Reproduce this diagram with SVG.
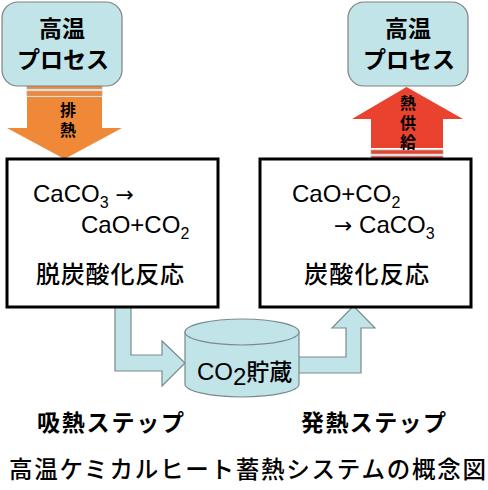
<svg xmlns="http://www.w3.org/2000/svg" width="488" height="490" viewBox="0 0 488 490">
<style>
.proc{fill:#c1e4e8;stroke:#808080;stroke-width:1.2}
.box{fill:#fff;stroke:#000;stroke-width:3}
.flow{fill:#c1e4e8;stroke:#7a8a8c;stroke-width:1.2}
.jp{font-family:"Noto Sans CJK JP","Noto Sans CJK SC",sans-serif;fill:#000}
.lat{font-family:"Liberation Sans",Arial,sans-serif;fill:#000;font-size:24px}
.big{font-size:23px;font-weight:bold}
.rx{font-size:24px;font-weight:500}
.step{font-size:23px;font-weight:bold}
.vlab{font-size:16px;font-weight:bold;writing-mode:vertical-rl;letter-spacing:3.5px}
</style>
<rect width="488" height="490" fill="#fff"/>
<g id="connectors">
  <g id="exhaust-arrow">
    <rect x="27" y="85" width="75" height="4" fill="#ef8837" stroke="#b0b0b0" stroke-width="0.8"/>
    <rect x="27" y="91" width="75" height="5" fill="#ef8837" stroke="#b0b0b0" stroke-width="0.8"/>
    <path d="M27,97 L102,97 L102,128 L122,128 L64.5,159 L7,128 L27,128 Z" fill="#ef8837"/>
    <text class="jp vlab" x="68" y="102">排熱</text>
  </g>
  <g id="supply-arrow">
    <rect x="371" y="150" width="72" height="4" fill="#e9432f" stroke="#b0b0b0" stroke-width="0.8"/>
    <rect x="371" y="156" width="72" height="3" fill="#e9432f" stroke="#b0b0b0" stroke-width="0.8"/>
    <path d="M371,148 L371,119 L352,119 L406.5,87 L463,119 L443,119 L443,148 Z" fill="#e9432f"/>
    <text class="jp vlab" x="408" y="95">熱供給</text>
  </g>
  <path id="flow-in" class="flow" d="M115,307 L115,371 L162,371 L162,386 L185,363 L162,341 L162,355 L131,355 L131,307 Z"/>
  <path id="flow-out" class="flow" d="M290,357 L346,357 L346,328 L332,328 L353.5,306 L375,328 L361,328 L361,373 L290,373 Z"/>
</g>
<g id="process-left">
  <rect class="proc" x="2" y="2" width="120" height="84" rx="16"/>
  <text class="jp big" x="62" y="37" text-anchor="middle">高温</text>
  <text class="jp big" x="63" y="68" text-anchor="middle">プロセス</text>
</g>
<g id="process-right">
  <rect class="proc" x="348" y="2" width="120" height="84" rx="16"/>
  <text class="jp big" x="408" y="37" text-anchor="middle">高温</text>
  <text class="jp big" x="409" y="68" text-anchor="middle">プロセス</text>
</g>
<g id="decarbonation">
  <rect class="box" x="7" y="159" width="211" height="148"/>
  <text class="lat" x="33" y="202">CaCO<tspan font-size="16" dy="6">3</tspan><tspan dy="-6" font-family="'DejaVu Sans',sans-serif" font-size="22"> →</tspan></text>
  <text class="lat" x="81" y="233">CaO+CO<tspan font-size="16" dy="6">2</tspan></text>
  <text class="jp rx" x="36" y="283" textLength="148">脱炭酸化反応</text>
</g>
<g id="carbonation">
  <rect class="box" x="260" y="159" width="211" height="148"/>
  <text class="lat" x="292" y="202">CaO+CO<tspan font-size="16" dy="6">2</tspan></text>
  <text class="lat" x="334" y="233"><tspan font-family="'DejaVu Sans',sans-serif" font-size="22">→</tspan> CaCO<tspan font-size="16" dy="6">3</tspan></text>
  <text class="jp rx" x="304" y="283" textLength="125">炭酸化反応</text>
</g>
<g id="co2-storage">
  <path class="flow" d="M185,332 L185,384 A57,13 0 0 0 299,384 L299,332 Z"/>
  <ellipse class="flow" cx="242" cy="332" rx="57" ry="13"/>
  <text x="197" y="380"><tspan class="lat" font-size="23">CO</tspan><tspan class="lat" font-size="15" dy="5">2</tspan><tspan class="jp" font-size="23" font-weight="500" dy="-5">貯蔵</tspan></text>
</g>
<g id="labels">
  <text class="jp step" x="37" y="431" textLength="147">吸熱ステップ</text>
  <text class="jp step" x="301" y="431" textLength="145">発熱ステップ</text>
  <text class="jp" font-size="23.5" font-weight="500" x="9" y="478" textLength="477">高温ケミカルヒート蓄熱システムの概念図</text>
</g>
</svg>
